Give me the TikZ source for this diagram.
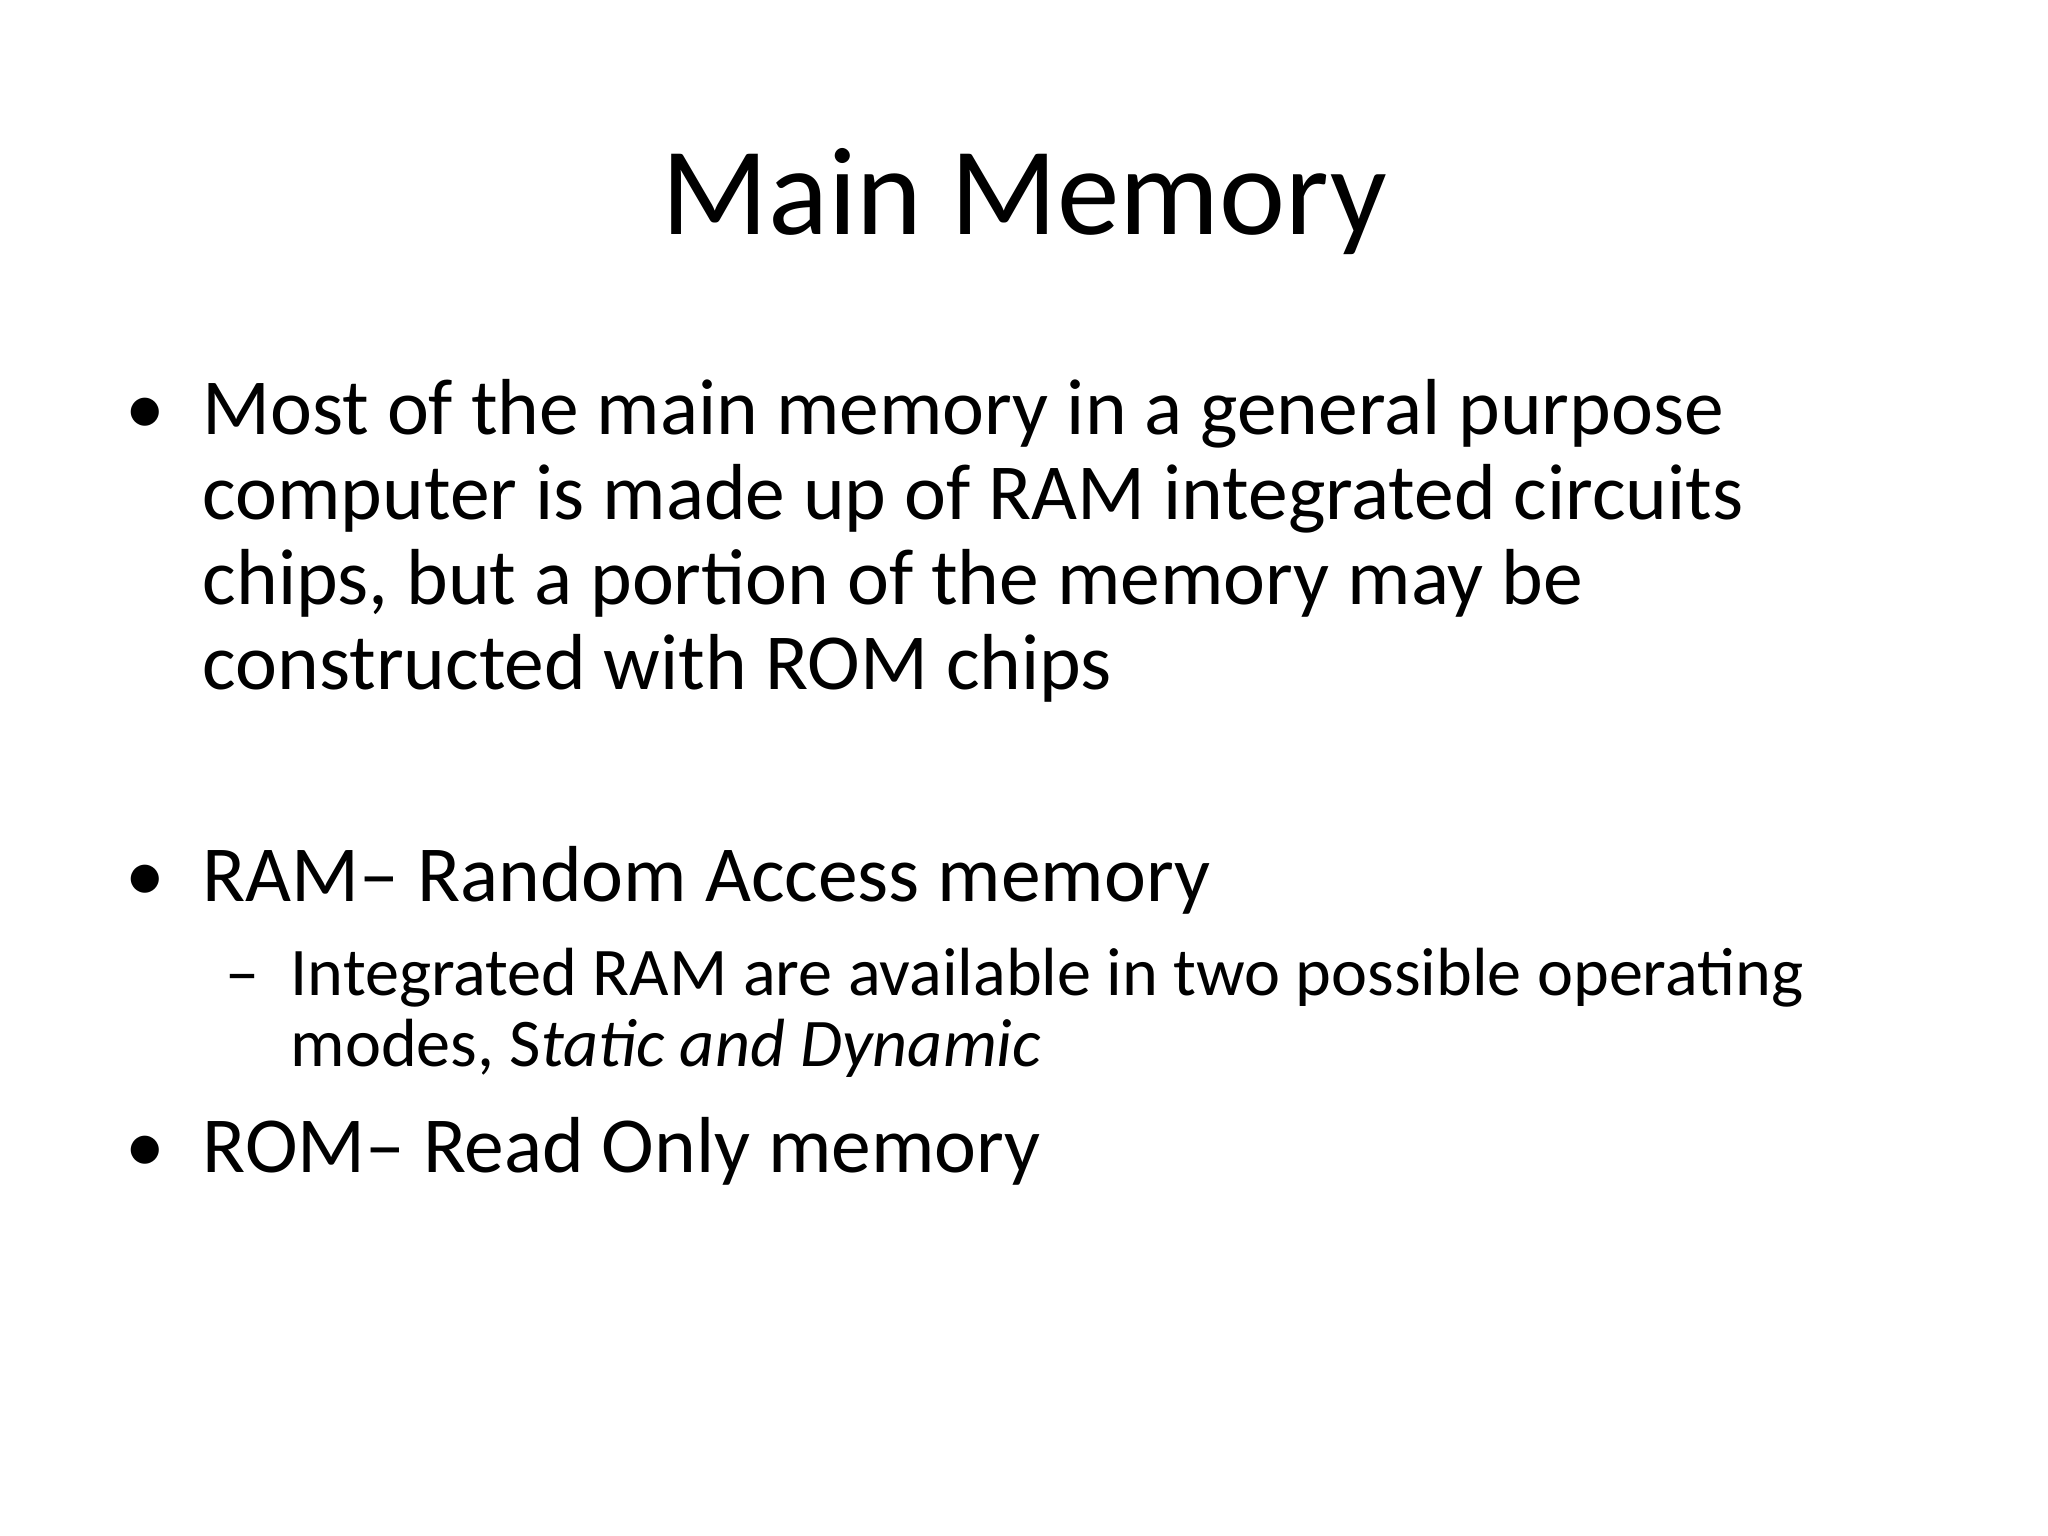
\documentclass[tikz,border=0pt]{standalone}
\usepackage{fontspec}
\setmainfont{Carlito}
\begin{document}
\begin{tikzpicture}[x=1cm,y=1cm,
  title/.style={anchor=base,inner sep=0pt,font=\fontsize{35.6}{40}\selectfont},
  main/.style={anchor=base west,inner sep=0pt,font=\fontsize{22.6}{24.2}\selectfont},
  sub/.style={anchor=base west,inner sep=0pt,font=\fontsize{19.4}{20.4}\selectfont}]
\useasboundingbox (0,0) rectangle (20.48,-15.36);
\node[title] (t) at (10.24,-2.35) {Main Memory};
\node[main] (b1) at (1.25,-4.35) {\textbullet};
\node[main] (l1a) at (2.02,-4.35) {Most of the main memory in a general purpose};
\node[main] (l1b) at (2.02,-5.20) {computer is made up of RAM integrated circuits};
\node[main] (l1c) at (2.02,-6.05) {chips, but a portion of the memory may be};
\node[main] (l1d) at (2.02,-6.90) {constructed with ROM chips};
\node[main] (b2) at (1.25,-9.01) {\textbullet};
\node[main] (l2) at (2.02,-9.01) {RAM– Random Access memory};
\node[sub] (d1) at (2.25,-9.95) {–};
\node[sub] (l3a) at (2.90,-9.95) {Integrated RAM are available in two possible operating};
\node[sub] (l3b) at (2.90,-10.67) {modes, S\textit{tatic and Dynamic}};
\node[main] (b3) at (1.25,-11.72) {\textbullet};
\node[main] (l4) at (2.02,-11.72) {ROM– Read Only memory};
\end{tikzpicture}
\end{document}
